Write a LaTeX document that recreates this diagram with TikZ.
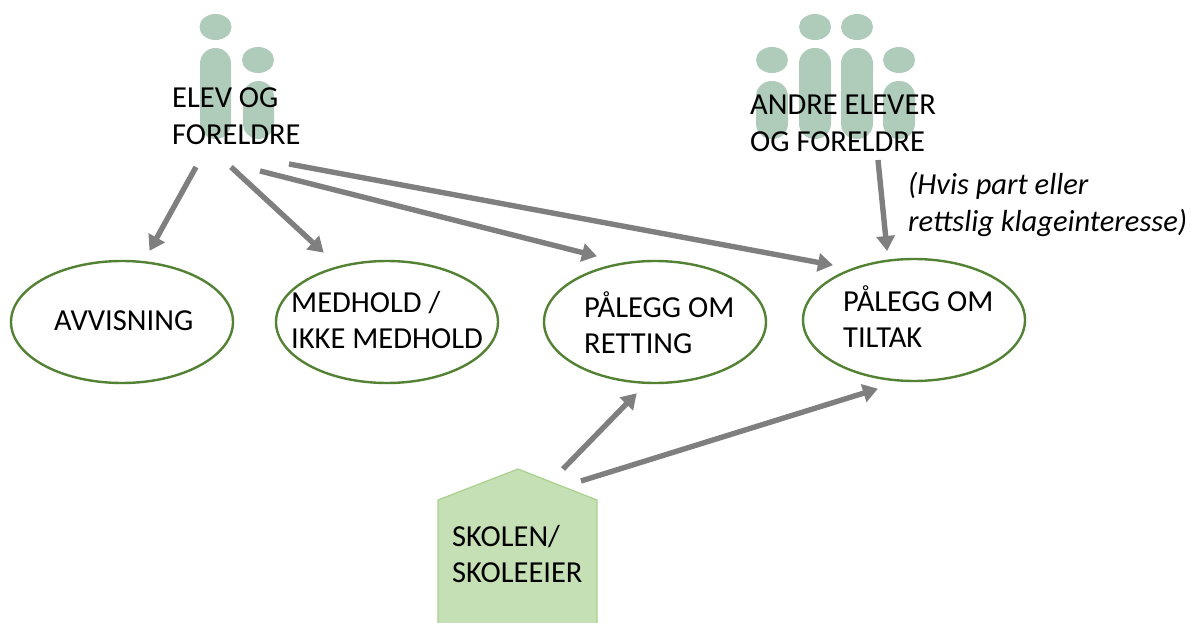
\documentclass[tikz,border=0pt]{standalone}
\usepackage{fontspec}
\setmainfont{Carlito}
\usetikzlibrary{arrows.meta,shapes.geometric}
\definecolor{personc}{HTML}{AFCBB9}
\definecolor{ringc}{HTML}{548235}
\definecolor{arrowc}{HTML}{7F7F7F}
\definecolor{housef}{HTML}{C5E0B4}
\definecolor{housed}{HTML}{A9D18E}
\tikzset{
  x=1pt,y=-1pt,
  headblob/.style={fill=personc,draw=none,ellipse,minimum width=32pt,minimum height=26pt,inner sep=0pt},
  ring/.style={draw=ringc,line width=2.4pt,fill=white,ellipse,minimum width=222pt,minimum height=122pt,inner sep=0pt},
  txt/.style={inner sep=0pt,anchor=north west,align=left,font=\fontsize{30.5}{36.5}\selectfont,text=black},
  notetxt/.style={inner sep=0pt,anchor=north west,align=left,font=\fontsize{30.5}{37}\selectfont\itshape,text=black},
  link/.style={draw=arrowc,line width=5.4pt,-{Triangle[length=15pt,width=18pt]},shorten >=-1pt},
}
\newcommand{\bodyshape}[4]{\fill[personc,rounded corners=15.5pt] (#1,#2) rectangle (#3,#4);}
\begin{document}
\begin{tikzpicture}
\useasboundingbox (0,0) rectangle (1192,623);
% people left
\node[headblob] at (215.5,27) {};
\node[headblob] at (258,60) {};
\bodyshape{200}{48}{231}{139}
\bodyshape{243}{81}{274}{139}
% people right
\node[headblob] at (815,27) {};
\node[headblob] at (857,27) {};
\node[headblob] at (772,60) {};
\node[headblob] at (899,60) {};
\bodyshape{799}{48}{831}{139}
\bodyshape{841}{48}{873}{139}
\bodyshape{756}{81}{788}{139}
\bodyshape{883}{81}{915}{139}
% ellipses
\node[ring] (avv) at (122,322) {};
\node[ring] (med) at (387,322) {};
\node[ring] (ret) at (655,322) {};
\node[ring] (til) at (914,320) {};
% house
\draw[fill=housef,draw=housed,line width=1.2pt] (438,625) -- (438,500) -- (518,469) -- (597,500) -- (597,625);
% anchors for the ends of the connectors
\coordinate (hom) at (518,469);
\coordinate (elevc) at (236,120);
\coordinate (andrec) at (838,120);
% labels
\node[txt] (elev) at (172,88) {ELEV OG\\FORELDRE};
\node[txt] (andre) at (750,95) {ANDRE ELEVER\\OG FORELDRE};
\node[notetxt] (hvis) at (908,172) {(Hvis part eller\\rettslig klageinteresse)};
\node[txt] (tavv) at (54,311) {AVVISNING};
\node[txt] (tmed) at (291,291) {MEDHOLD /\\IKKE MEDHOLD};
\node[txt] (tret) at (584,291) {PÅLEGG OM\\RETTING};
\node[txt] (ttil) at (843,285) {PÅLEGG OM\\TILTAK};
\node[txt] (tsko) at (452,525) {SKOLEN/\\SKOLEEIER};
% connectors
\draw[link] ([xshift=-40pt,yshift=-47pt]elevc) -- ([xshift=28pt,yshift=72pt]avv.center);
\draw[link] ([xshift=-5pt,yshift=-47pt]elevc) -- ([xshift=-64pt,yshift=70pt]med.center);
\draw[link] ([xshift=24pt,yshift=-51pt]elevc) -- ([xshift=-59pt,yshift=66pt]ret.center);
\draw[link] ([xshift=53pt,yshift=-44pt]elevc) -- ([xshift=-82pt,yshift=55pt]til.center);
\draw[link] ([xshift=40pt,yshift=-40pt]andrec) -- ([xshift=-27pt,yshift=70pt]til.center);
\draw[link] ([xshift=45pt,yshift=0pt]hom) -- ([xshift=-19pt,yshift=-72pt]ret.center);
\draw[link] ([xshift=63pt,yshift=-12pt]hom) -- ([xshift=-37pt,yshift=-69pt]til.center);
\end{tikzpicture}
\end{document}
